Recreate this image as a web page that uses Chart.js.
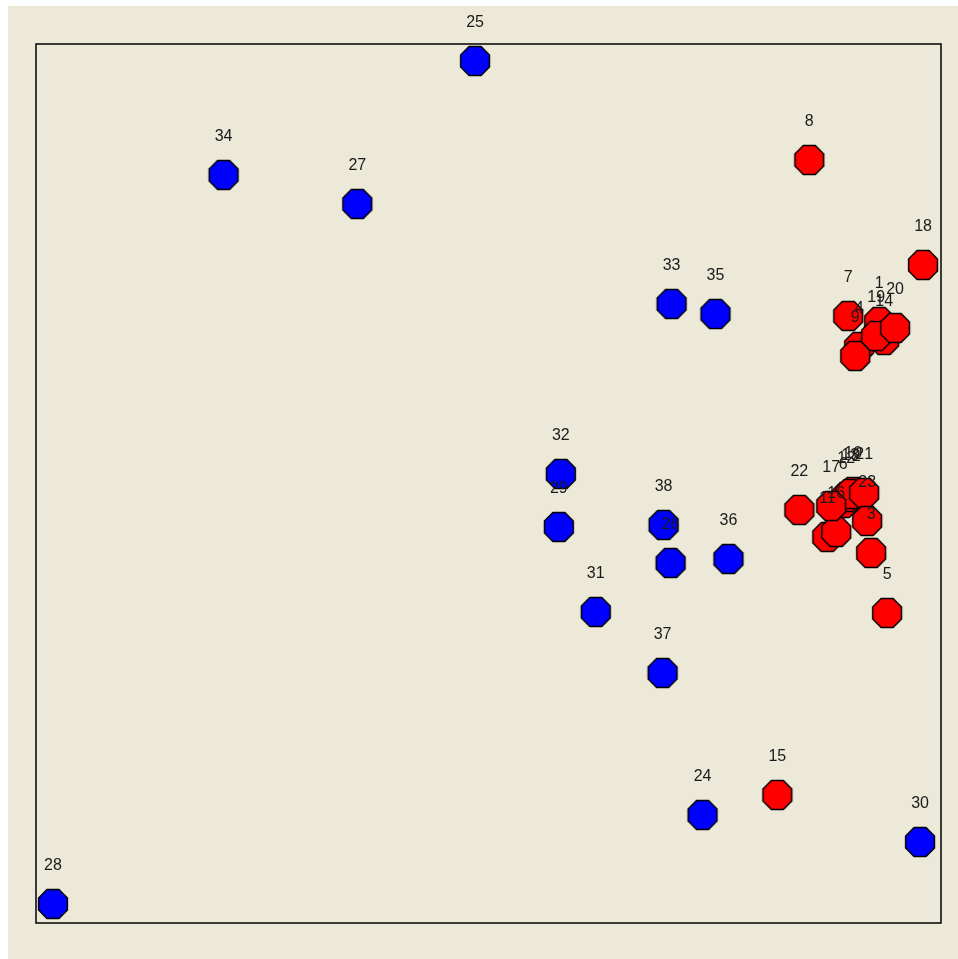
<!DOCTYPE html>
<html><head><meta charset="utf-8">
<script src="https://cdn.jsdelivr.net/npm/chart.js@4.4.1/dist/chart.umd.min.js"></script>
<style>html,body{margin:0;padding:0;background:#fff;}#wrap{width:958px;height:959px;}</style>
</head><body><div id="wrap"><canvas id="c" width="958" height="959"></canvas></div>
<script>
// Group A (red) objects
const redLabels = ['1','2','3','4','5','6','7','8','9','10','11','12','13','14','15','16','17','18','19','20','21','22','23'];
const redX = [845,822,837,825,853,809,814,775,821,819,793,812,816,850,743,802,797,889,842,861,830,765,833];
const redY = [601,428,370,576,310,420,607,763,567,431,386,426,429,583,128,391,417,658,587,595,430,413,402];
// Group B (blue) objects
const blueLabels = ['24','25','26','27','28','29','30','31','32','33','34','35','36','37','38'];
const blueX = [668,440,636,322,17,524,886,561,526,637,188,681,694,628,629];
const blueY = [108,862,360,719,19,396,81,311,449,619,748,609,364,250,398];

function octagon(fill){
  const s=34, c=document.createElement('canvas'); c.width=s; c.height=s;
  const g=c.getContext('2d'); const r=15.6, cx=s/2, cy=s/2;
  g.beginPath();
  for(let k=0;k<8;k++){const a=Math.PI/8+k*Math.PI/4; const x=cx+r*Math.cos(a), y=cy+r*Math.sin(a); k?g.lineTo(x,y):g.moveTo(x,y);}
  g.closePath(); g.fillStyle=fill; g.fill(); g.lineWidth=1.5; g.strokeStyle='#000'; g.stroke();
  return c;
}
const redPts = redX.map((x,i)=>({x, y:redY[i], label:redLabels[i]}));
const bluePts = blueX.map((x,i)=>({x, y:blueY[i], label:blueLabels[i]}));

const bgPlugin = {
  id:'bg',
  beforeDraw(chart){
    const ctx=chart.ctx; ctx.save();
    ctx.fillStyle='#ECE9D8'; ctx.fillRect(8,6,chart.width-8,chart.height-6);
    ctx.restore();
  },
  afterDraw(chart){
    const ctx=chart.ctx, a=chart.chartArea; ctx.save();
    ctx.strokeStyle='#000'; ctx.lineWidth=1.5;
    ctx.strokeRect(a.left,a.top,a.right-a.left,a.bottom-a.top);
    ctx.restore();
  }
};
const labelPlugin = {
  id:'lbl',
  afterDatasetsDraw(chart){
    const ctx=chart.ctx; ctx.save();
    ctx.font='16px "Liberation Sans", Arial, sans-serif';
    ctx.fillStyle='#1a1a1a'; ctx.textAlign='center'; ctx.textBaseline='middle';
    chart.data.datasets.forEach((ds,di)=>{
      const meta=chart.getDatasetMeta(di);
      meta.data.forEach((el,i)=>{ ctx.fillText(ds.data[i].label, el.x, el.y-38); });
    });
    ctx.restore();
  }
};

new Chart(document.getElementById('c'),{
  type:'scatter',
  data:{datasets:[
    {label:'B', data:bluePts, pointStyle:octagon('#0000FF'), pointRadius:16, hoverRadius:16},
    {label:'A', data:redPts, pointStyle:octagon('#FF0000'), pointRadius:16, hoverRadius:16}
  ]},
  options:{
    responsive:false, animation:false, devicePixelRatio:1,
    layout:{padding:{left:36,right:15,top:44,bottom:36}},
    clip:false,
    plugins:{legend:{display:false},tooltip:{enabled:false}},
    scales:{
      x:{type:'linear',min:0,max:907,display:false},
      y:{type:'linear',min:0,max:879,display:false}
    }
  },
  plugins:[bgPlugin,labelPlugin]
});
</script></body></html>
